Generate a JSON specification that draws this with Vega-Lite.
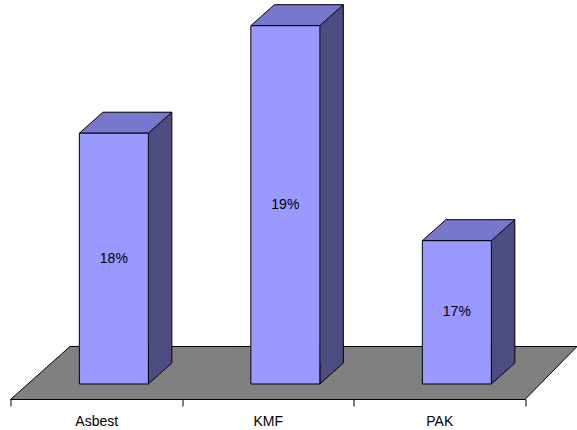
{
  "$schema": "https://vega.github.io/schema/vega-lite/v6.json",
  "width": 514.5,
  "height": 399,
  "autosize": "none",
  "padding": {"left": 10.5, "top": 0, "right": 52, "bottom": 31},
  "background": "white",
  "config": {
    "view": {"stroke": null},
    "font": "Liberation Sans"
  },
  "data": {
    "values": [
      {"site": "Asbest", "share": 0.18},
      {"site": "KMF", "share": 0.19},
      {"site": "PAK", "share": 0.17}
    ]
  },
  "encoding": {
    "x": {
      "field": "site",
      "type": "nominal",
      "sort": null,
      "scale": {"domain": ["Asbest", "KMF", "PAK"], "paddingInner": 0, "paddingOuter": 0},
      "axis": {
        "title": null,
        "labelAngle": 0,
        "grid": false,
        "domainColor": "black",
        "domainWidth": 1,
        "tickColor": "black",
        "tickWidth": 1,
        "tickSize": 7,
        "tickBand": "extent",
        "labelColor": "black",
        "labelFontSize": 14,
        "labelPadding": 8
      }
    }
  },
  "layer": [
    {
      "layer": [
        {
          "data": {"values": [{}]},
          "mark": {
            "type": "point",
            "shape": "M-257.25,15.5 L257.25,15.5 L309.25,-37.5 L-197.75,-37.5 Z",
            "size": 4,
            "filled": true,
            "fill": "#808080",
            "stroke": "black",
            "strokeWidth": 1,
            "opacity": 1
          },
          "encoding": {
            "x": {"datum": "KMF", "type": "nominal"},
            "y": {"datum": 0.15667, "type": "quantitative", "scale": {"domain": [0.155274, 0.192391], "nice": false, "zero": false}, "axis": null}
          }
        },
        {
          "mark": {
            "type": "bar",
            "width": 23.5,
            "xOffset": 63.85,
            "yOffset": -21,
            "y2Offset": -21,
            "fill": "#4C4C80"
          },
          "encoding": {
            "y": {"field": "share", "type": "quantitative", "scale": {"domain": [0.155274, 0.192391], "nice": false, "zero": false}, "axis": null},
            "y2": {"datum": 0.15667}
          }
        },
        {
          "mark": {
            "type": "point",
            "shape": "M75.6,-21 L52.1,0 L52.1,-21",
            "size": 4,
            "filled": true,
            "fill": "#4C4C80",
            "stroke": "black",
            "strokeWidth": 1,
            "opacity": 1
          },
          "encoding": {
            "y": {"datum": 0.15667, "type": "quantitative", "scale": {"domain": [0.155274, 0.192391], "nice": false, "zero": false}, "axis": null}
          }
        },
        {
          "mark": {
            "type": "rule",
            "xOffset": 75.6,
            "yOffset": -21,
            "y2Offset": -21,
            "color": "black",
            "strokeWidth": 1
          },
          "encoding": {
            "y": {"field": "share", "type": "quantitative", "scale": {"domain": [0.155274, 0.192391], "nice": false, "zero": false}, "axis": null},
            "y2": {"datum": 0.15667}
          }
        },
        {
          "mark": {
            "type": "point",
            "shape": "M-16.9,0 L52.1,0 L75.6,-21 L6.6,-21 Z",
            "size": 4,
            "filled": true,
            "fill": "#7777CC",
            "stroke": "black",
            "strokeWidth": 1,
            "opacity": 1
          },
          "encoding": {
            "y": {"field": "share", "type": "quantitative", "scale": {"domain": [0.155274, 0.192391], "nice": false, "zero": false}, "axis": null}
          }
        },
        {
          "mark": {
            "type": "bar",
            "width": 69,
            "xOffset": 17.6,
            "fill": "#9999FF",
            "stroke": "black",
            "strokeWidth": 1
          },
          "encoding": {
            "y": {"field": "share", "type": "quantitative", "scale": {"domain": [0.155274, 0.192391], "nice": false, "zero": false}, "axis": null},
            "y2": {"datum": 0.15667}
          }
        }
      ]
    },
    {
      "mark": {
        "type": "text",
        "xOffset": 17.6,
        "align": "center",
        "baseline": "middle",
        "fontSize": 14,
        "color": "black"
      },
      "encoding": {
        "y": {"field": "share", "type": "quantitative", "scale": {"domain": [0.153879, 0.228112], "nice": false, "zero": false}, "axis": null},
        "text": {"field": "share", "type": "quantitative", "format": ".0%"}
      }
    }
  ],
  "resolve": {"scale": {"y": "independent"}}
}
